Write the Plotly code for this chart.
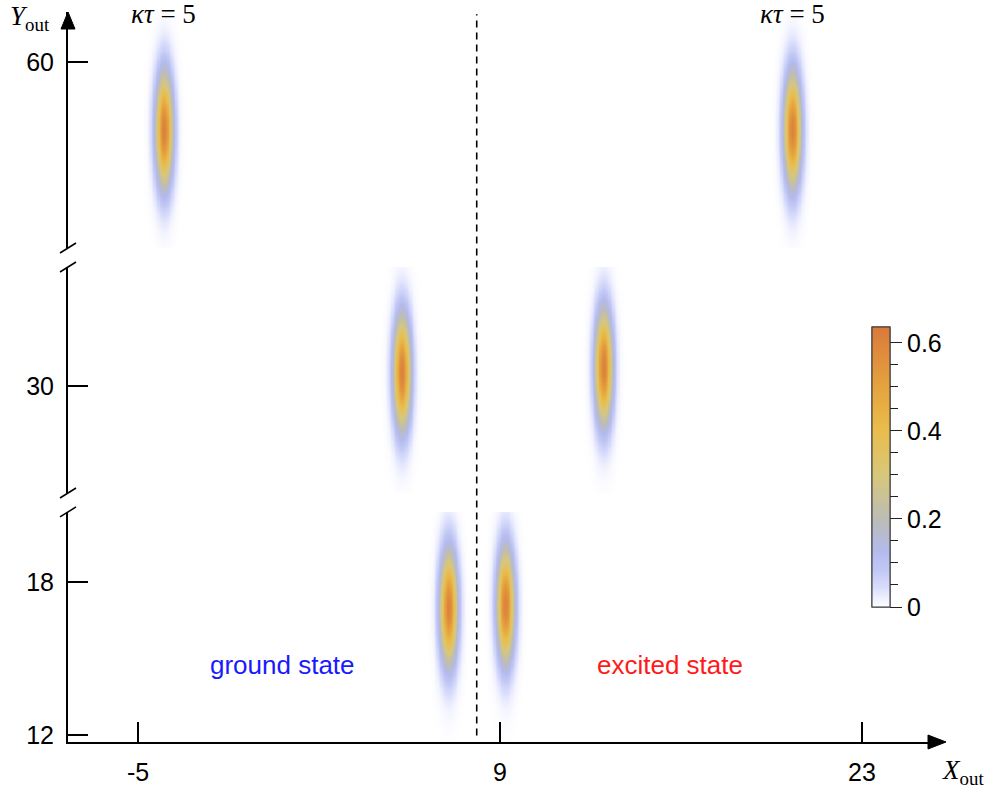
import numpy as np
import plotly.graph_objects as go

# ---------------- data ----------------
blob_x = [-4.0, 20.3, 5.2, 13.0, 7.0, 9.2]
blob_y = [57.35, 57.35, 30.55, 30.75, 17.0, 17.1]
blob_peak = [0.61, 0.61, 0.61, 0.61, 0.61, 0.61]
blob_sx = [0.23, 0.23, 0.23, 0.23, 0.23, 0.23]
blob_sy = [1.5, 1.5, 1.5, 1.5, 1.5, 1.5]
blob_labels = ["<i>κτ</i> = 5", "<i>κτ</i> = 5", "2", "2", "1", "1"]
label_y = [61.88, 61.88, 35.25, 35.25, 21.29, 21.29]
label_axis = ["y3", "y3", "y2", "y2", "y", "y"]

x_ticks = [-5, 9, 23]
x_ticktext = ["-5", "9", "23"]
y_ticks_bottom = [12, 18]
y_ticks_middle = [30]
y_ticks_top = [60]
divider_x = 8.1
cb_ticks = [0, 0.2, 0.4, 0.6]
cb_ticktext = ["0", "0.2", "0.4", "0.6"]
cb_minor = [0.05, 0.1, 0.15, 0.25, 0.3, 0.35, 0.45, 0.5, 0.55]
zmax = 0.636

x_range = [-7.707, 26.017]
seg_ranges = [[11.73, 20.75], [25.80, 34.67], [52.71, 61.96]]
seg_domains = [[0.0, 0.3151], [0.3411, 0.6507], [0.6767, 1.0]]

colorscale = [
    [0.0, "#ffffff"],
    [0.025, "#f2f3fe"],
    [0.07, "#d9ddfb"],
    [0.13, "#c2c8f5"],
    [0.2, "#b4baec"],
    [0.31, "#bcbcb8"],
    [0.47, "#d7c77a"],
    [0.63, "#e9bd4c"],
    [0.79, "#e5a23e"],
    [1.0, "#d97a3c"],
]

FONT = "Liberation Sans"
SERIF = "Liberation Serif"
TICK_SIZE = 25

fig = go.Figure()

gx = np.arange(x_range[0], x_range[1] + 0.05, 0.05)
axes_names = ["y", "y2", "y3"]
for i, (rng, yname) in enumerate(zip(seg_ranges, axes_names)):
    gy = np.arange(rng[0], rng[1] + 0.1, 0.1)
    X, Y = np.meshgrid(gx, gy)
    Z = np.zeros_like(X)
    for bx, by, bp, sx, sy in zip(blob_x, blob_y, blob_peak, blob_sx, blob_sy):
        Z += bp * np.exp(-((X - bx) ** 2) / (2 * sx ** 2) - ((Y - by) ** 2) / (2 * sy ** 2))
    fig.add_trace(go.Heatmap(
        x=gx, y=gy, z=Z.astype(np.float32), zmin=0, zmax=zmax,
        colorscale=colorscale, zsmooth="best", hoverinfo="skip",
        showscale=(i == 0), xaxis="x", yaxis=yname,
        colorbar=dict(
            x=0.922, xanchor="left", xpad=0, ypad=0,
            y=0.3767, yanchor="middle", lenmode="pixels", len=280,
            thicknessmode="pixels", thickness=18,
            outlinewidth=1, outlinecolor="#333333",
            tickmode="array", tickvals=cb_ticks, ticktext=cb_ticktext,
            ticks="outside", ticklen=12, tickwidth=1, tickcolor="#222222",
            tickfont=dict(family=FONT, size=TICK_SIZE, color="black"),
        ) if i == 0 else None,
    ))

# minor ticks on the colorbar via a second, empty colour scale
fig.add_trace(go.Scatter(
    x=[None], y=[None], mode="markers", hoverinfo="skip", showlegend=False,
    marker=dict(color=[0], cmin=0, cmax=zmax, colorscale=colorscale, showscale=True,
                colorbar=dict(
                    x=0.922, xanchor="left", xpad=0, ypad=0,
                    y=0.3767, yanchor="middle", lenmode="pixels", len=280,
                    thicknessmode="pixels", thickness=18,
                    outlinewidth=1, outlinecolor="#333333",
                    tickmode="array", tickvals=cb_minor, ticks="outside",
                    ticklen=8, tickwidth=1, tickcolor="#222222", showticklabels=False)),
))

axis_common = dict(showgrid=False, zeroline=False, showline=True, linecolor="black",
                   linewidth=2, ticks="inside", ticklen=20, tickwidth=1.5, tickcolor="black",
                   tickfont=dict(family=FONT, size=TICK_SIZE, color="black"),
                   fixedrange=True, automargin=False)

fig.update_layout(
    width=990, height=790,
    margin=dict(l=68, r=50, t=12, b=48, autoexpand=False),
    paper_bgcolor="white", plot_bgcolor="white",
    showlegend=False,
    xaxis=dict(range=x_range, tickvals=x_ticks, ticktext=x_ticktext, anchor="y",
               ticklabelstandoff=7, **axis_common),
    yaxis=dict(range=seg_ranges[0], domain=seg_domains[0], tickvals=y_ticks_bottom,
               anchor="x", ticklabelstandoff=7, **axis_common),
    yaxis2=dict(range=seg_ranges[1], domain=seg_domains[1], tickvals=y_ticks_middle,
                anchor="x", ticklabelstandoff=7, **axis_common),
    yaxis3=dict(range=seg_ranges[2], domain=seg_domains[2], tickvals=y_ticks_top,
                anchor="x", ticklabelstandoff=7, **axis_common),
)

# divider
fig.add_shape(type="line", xref="x", yref="paper", x0=divider_x, x1=divider_x, y0=0.009, y1=0.997,
              line=dict(color="black", width=1.6, dash="7px,5px"))

# break marks on y axis
for yb in [seg_domains[0][1], seg_domains[1][0], seg_domains[1][1], seg_domains[2][0]]:
    fig.add_shape(type="line", xref="paper", yref="paper", xsizemode="pixel", ysizemode="pixel",
                  xanchor=0, yanchor=yb, x0=-8, x1=8, y0=-5, y1=5,
                  line=dict(color="black", width=1.5))

# arrowheads
fig.add_shape(type="path", xref="paper", yref="paper", xsizemode="pixel", ysizemode="pixel",
              xanchor=1.0, yanchor=0, path="M 6 0 L -12 7 L -12 -7 Z",
              fillcolor="black", line=dict(color="black", width=1))
fig.add_shape(type="path", xref="paper", yref="paper", xsizemode="pixel", ysizemode="pixel",
              xanchor=0, yanchor=1.0, path="M 0 0 L -7 -17 L 7 -17 Z",
              fillcolor="black", line=dict(color="black", width=1))

# blob labels
for bx, ly, txt, ax in zip(blob_x, label_y, blob_labels, label_axis):
    fam = SERIF if "κ" in txt else FONT
    fig.add_annotation(x=bx, y=ly, xref="x", yref=ax, text=txt, showarrow=False,
                       xanchor="center", yanchor="middle",
                       font=dict(family=fam, size=27 if "κ" in txt else TICK_SIZE, color="black"))

fig.add_annotation(x=(282 - 68) / 872, y=(742 - 665) / 730, xref="paper", yref="paper",
                   text="ground state", showarrow=False, xanchor="center", yanchor="middle",
                   font=dict(family=FONT, size=26, color="#1a1aff"))
fig.add_annotation(x=(670 - 68) / 872, y=(742 - 665) / 730, xref="paper", yref="paper",
                   text="excited state", showarrow=False, xanchor="center", yanchor="middle",
                   font=dict(family=FONT, size=26, color="#ff1a1a"))

fig.add_annotation(x=(30 - 68) / 872, y=(742 - 18) / 730, xref="paper", yref="paper",
                   text="<i>Y</i><sub>out</sub>", showarrow=False, xanchor="center", yanchor="middle",
                   font=dict(family=SERIF, size=27, color="black"))
fig.add_annotation(x=(963 - 68) / 872, y=(742 - 772) / 730, xref="paper", yref="paper",
                   text="<i>X</i><sub>out</sub>", showarrow=False, xanchor="center", yanchor="middle",
                   font=dict(family=SERIF, size=27, color="black"))

fig.write_html("out.html")
